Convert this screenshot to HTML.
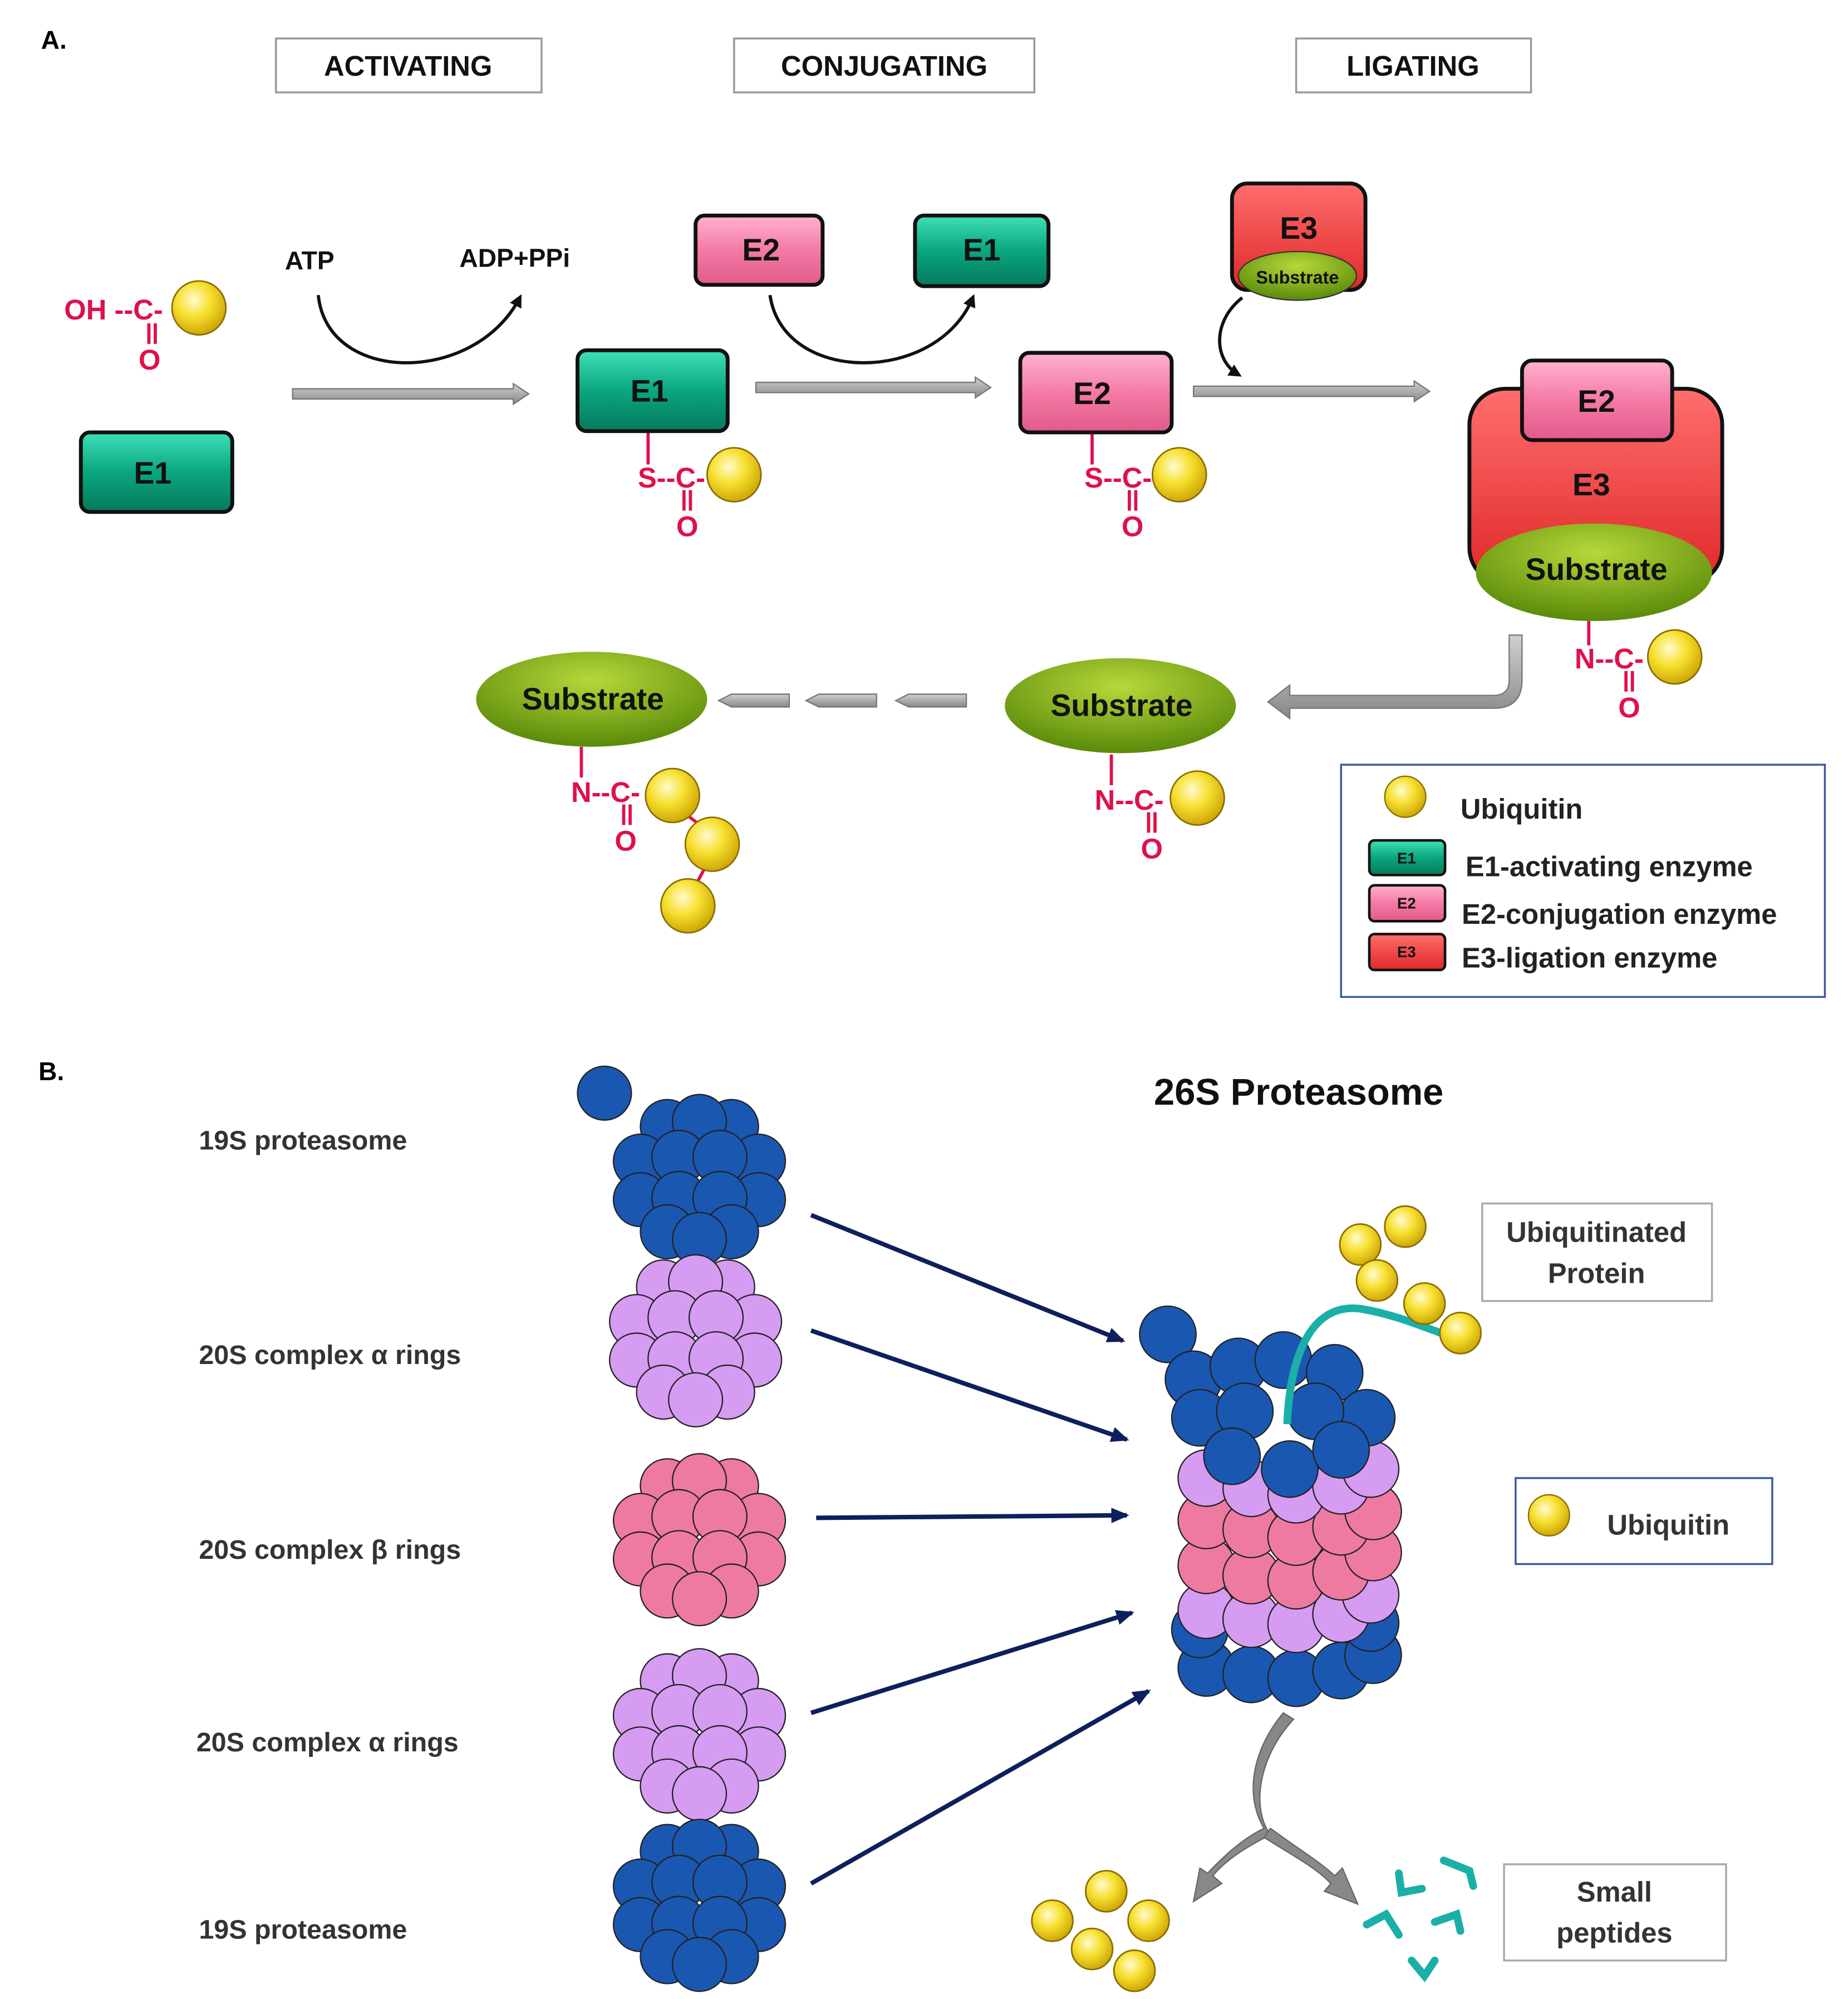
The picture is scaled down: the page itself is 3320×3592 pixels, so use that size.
<!DOCTYPE html>
<html><head><meta charset="utf-8"><style>
html,body{margin:0;padding:0;background:#fff}
svg{display:block}
text{font-family:"Liberation Sans",sans-serif;font-weight:bold}
</style></head><body>
<svg width="3320" height="3592" viewBox="0 0 1440 1558" xmlns="http://www.w3.org/2000/svg">
<defs>
<radialGradient id="ub" cx="0.4" cy="0.35" r="0.7"><stop offset="0" stop-color="#fffbd0"/><stop offset="0.45" stop-color="#f7e030"/><stop offset="1" stop-color="#c9a000"/></radialGradient>
<linearGradient id="gE1" x1="0" y1="0" x2="0" y2="1"><stop offset="0" stop-color="#3fe0b8"/><stop offset="0.5" stop-color="#0aa67f"/><stop offset="1" stop-color="#057a5c"/></linearGradient>
<linearGradient id="gE2" x1="0" y1="0" x2="0" y2="1"><stop offset="0" stop-color="#ffb3d0"/><stop offset="0.5" stop-color="#f47aa6"/><stop offset="1" stop-color="#e05a8a"/></linearGradient>
<linearGradient id="gE3" x1="0" y1="0" x2="0" y2="1"><stop offset="0" stop-color="#ff6e6e"/><stop offset="1" stop-color="#e02828"/></linearGradient>
<radialGradient id="gS" cx="0.5" cy="0.3" r="0.7"><stop offset="0" stop-color="#b7d83a"/><stop offset="1" stop-color="#5a8a0a"/></radialGradient>
<linearGradient id="gA" x1="0" y1="0" x2="0" y2="1"><stop offset="0" stop-color="#d0d0d0"/><stop offset="1" stop-color="#888"/></linearGradient>
<marker id="ah" markerWidth="10" markerHeight="10" refX="7" refY="5" orient="auto" markerUnits="userSpaceOnUse"><path d="M0,0 L10,5 L0,10 z" fill="#111"/></marker>
<marker id="nv" markerWidth="14" markerHeight="12" refX="12" refY="6" orient="auto" markerUnits="userSpaceOnUse"><path d="M0,0 L14,6 L0,12 z" fill="#0d1f5c"/></marker>
<g id="cl" stroke="#222" stroke-width="1">
<circle cx="-25" cy="-42" r="21"/><circle cx="25" cy="-42" r="21"/><circle cx="0" cy="-46" r="21"/>
<circle cx="-46" cy="-15" r="21"/><circle cx="46" cy="-15" r="21"/><circle cx="-16" cy="-18" r="21"/><circle cx="16" cy="-18" r="21"/>
<circle cx="-46" cy="15" r="21"/><circle cx="46" cy="15" r="21"/><circle cx="-16" cy="14" r="21"/><circle cx="16" cy="14" r="21"/>
<circle cx="-25" cy="40" r="21"/><circle cx="25" cy="40" r="21"/><circle cx="0" cy="46" r="21"/>
</g>
</defs>

<text x="32" y="38" font-size="20">A.</text>
<g stroke="#999" fill="#fff" stroke-width="1.5">
<rect x="215" y="30" width="207" height="42"/><rect x="572" y="30" width="234" height="42"/><rect x="1010" y="30" width="183" height="42"/></g>
<g font-size="22" text-anchor="middle" fill="#111">
<text x="318" y="59">ACTIVATING</text><text x="689" y="59">CONJUGATING</text><text x="1101" y="59">LIGATING</text></g>

<!-- free ubiquitin -->
<g fill="#e0104a" font-size="22">
<text x="50" y="249">OH --C-</text><text x="108" y="288">O</text>
<text x="497" y="380">S--C-</text><text x="527" y="418">O</text>
<text x="845" y="380">S--C-</text><text x="874" y="418">O</text>
<text x="1227" y="521">N--C-</text><text x="1261" y="559">O</text>
<text x="853" y="631">N--C-</text><text x="889" y="669">O</text>
<text x="445" y="625">N--C-</text><text x="479" y="663">O</text>
</g>
<g stroke="#e0104a" stroke-width="2.5">
<line x1="116" y1="252" x2="116" y2="268"/><line x1="121" y1="252" x2="121" y2="268"/>
<line x1="505" y1="337" x2="505" y2="362"/><line x1="533" y1="382" x2="533" y2="398"/><line x1="538" y1="382" x2="538" y2="398"/>
<line x1="851" y1="338" x2="851" y2="362"/><line x1="880" y1="382" x2="880" y2="398"/><line x1="885" y1="382" x2="885" y2="398"/>
<line x1="1238" y1="484" x2="1238" y2="503"/><line x1="1267" y1="523" x2="1267" y2="539"/><line x1="1272" y1="523" x2="1272" y2="539"/>
<line x1="866" y1="588" x2="866" y2="612"/><line x1="895" y1="633" x2="895" y2="649"/><line x1="900" y1="633" x2="900" y2="649"/>
<line x1="453" y1="582" x2="453" y2="606"/><line x1="486" y1="627" x2="486" y2="643"/><line x1="491" y1="627" x2="491" y2="643"/>
<line x1="535" y1="635" x2="548" y2="645"/><line x1="550" y1="675" x2="542" y2="690"/>
</g>
<g fill="url(#ub)" stroke="#8a6d00" stroke-width="1.2">
<circle cx="155" cy="240" r="21"/><circle cx="572" cy="370" r="21"/><circle cx="919" cy="370" r="21"/>
<circle cx="1305" cy="512" r="21"/><circle cx="933" cy="622" r="21"/>
<circle cx="524" cy="620" r="21"/><circle cx="555" cy="658" r="21"/><circle cx="536" cy="706" r="21"/>
</g>

<!-- boxes -->
<g stroke="#111" stroke-width="3">
<rect x="63" y="337" width="118" height="62" rx="7" fill="url(#gE1)"/>
<rect x="450" y="273" width="117" height="63" rx="7" fill="url(#gE1)"/>
<rect x="713" y="168" width="104" height="55" rx="7" fill="url(#gE1)"/>
<rect x="542" y="168" width="99" height="54" rx="7" fill="url(#gE2)"/>
<rect x="795" y="275" width="118" height="62" rx="7" fill="url(#gE2)"/>
<rect x="960" y="143" width="104" height="83" rx="12" fill="url(#gE3)"/>
<rect x="1145" y="303" width="197" height="152" rx="28" fill="url(#gE3)"/>
<rect x="1186" y="281" width="117" height="62" rx="8" fill="url(#gE2)"/>
</g>
<ellipse cx="1011" cy="215" rx="46" ry="19" fill="url(#gS)" stroke="#333"/>
<ellipse cx="1242" cy="446" rx="92" ry="38" fill="url(#gS)"/>
<ellipse cx="873" cy="550" rx="90" ry="37" fill="url(#gS)"/>
<ellipse cx="461" cy="545" rx="90" ry="37" fill="url(#gS)"/>
<g font-size="24" text-anchor="middle" fill="#111">
<text x="119" y="377">E1</text><text x="506" y="313">E1</text><text x="765" y="203">E1</text>
<text x="593" y="203">E2</text><text x="851" y="315">E2</text><text x="1012" y="186">E3</text>
<text x="1244" y="321">E2</text><text x="1240" y="386">E3</text>
<text x="1244" y="452">Substrate</text><text x="874" y="558">Substrate</text><text x="462" y="553">Substrate</text>
<text x="1011" y="221" font-size="14">Substrate</text>
</g>
<g font-size="20" fill="#111"><text x="222" y="210">ATP</text><text x="358" y="208">ADP+PPi</text></g>
<g fill="none" stroke="#111" stroke-width="2.5" marker-end="url(#ah)">
<path d="M248,230 C255,300 370,300 405,232"/>
<path d="M600,230 C610,300 730,300 758,232"/>
<path d="M968,232 C945,250 945,280 965,292"/>
</g>
<!-- gray arrows -->
<g fill="url(#gA)" stroke="#777" stroke-width="1">
<path d="M228,303 H400 V299 L412,307 L400,315 V311 H228 Z"/>
<path d="M589,298 H760 V294 L772,302 L760,310 V306 H589 Z"/>
<path d="M930,301 H1102 V297 L1114,305 L1102,313 V309 H930 Z"/>
<path d="M1176,495 H1186 V530 Q1186,552 1164,552 H1005 V560 L988,547 L1005,534 V542 H1164 Q1176,542 1176,530 Z"/>
<path d="M570,541 H615 V551 H570 L560,546 Z"/>
<path d="M638,541 H683 V551 H638 L628,546 Z"/>
<path d="M708,541 H753 V551 H708 L698,546 Z"/>
</g>
<!-- legend -->
<rect x="1045" y="596" width="377" height="181" fill="#fff" stroke="#3a5a9a" stroke-width="1.5"/>
<circle cx="1095" cy="621" r="16" fill="url(#ub)" stroke="#8a6d00"/>
<g stroke="#111" stroke-width="2">
<rect x="1067" y="655" width="59" height="27" rx="4" fill="url(#gE1)"/>
<rect x="1067" y="690" width="59" height="28" rx="4" fill="url(#gE2)"/>
<rect x="1067" y="728" width="59" height="28" rx="4" fill="url(#gE3)"/></g>
<g font-size="12" text-anchor="middle" fill="#111"><text x="1096" y="673">E1</text><text x="1096" y="708">E2</text><text x="1096" y="746">E3</text></g>
<g font-size="22" fill="#222"><text x="1138" y="638">Ubiquitin</text><text x="1142" y="683">E1-activating enzyme</text><text x="1139" y="720">E2-conjugation enzyme</text><text x="1139" y="754">E3-ligation enzyme</text></g>

<!-- B -->
<text x="30" y="842" font-size="20">B.</text>
<text x="1012" y="861" font-size="29" text-anchor="middle" fill="#111">26S Proteasome</text>
<g font-size="21" fill="#333"><text x="155" y="896">19S proteasome</text><text x="155" y="1063">20S complex α rings</text><text x="155" y="1215">20S complex β rings</text><text x="153" y="1365">20S complex α rings</text><text x="155" y="1511">19S proteasome</text></g>
<circle cx="471" cy="852" r="21" fill="#1a57b0" stroke="#222"/>
<use href="#cl" x="545" y="920" fill="#1a57b0"/>
<use href="#cl" x="542" y="1045" fill="#d69cf2"/>
<use href="#cl" x="545" y="1200" fill="#ee7aa2"/>
<use href="#cl" x="545" y="1352" fill="#d69cf2"/>
<use href="#cl" x="545" y="1485" fill="#1a57b0"/>
<g stroke="#0d1f5c" stroke-width="3.5" marker-end="url(#nv)">
<line x1="632" y1="947" x2="875" y2="1045"/><line x1="632" y1="1037" x2="878" y2="1122"/>
<line x1="636" y1="1183" x2="878" y2="1181"/><line x1="632" y1="1335" x2="882" y2="1257"/>
<line x1="632" y1="1468" x2="895" y2="1318"/></g>
<!-- proteasome stack -->
<g stroke="#222" stroke-width="1">
<g fill="#1a57b0"><circle cx="940" cy="1300" r="22"/><circle cx="975" cy="1305" r="22"/><circle cx="1010" cy="1308" r="22"/><circle cx="1045" cy="1302" r="22"/><circle cx="1070" cy="1290" r="22"/><circle cx="935" cy="1270" r="22"/><circle cx="1068" cy="1265" r="22"/></g>
<g fill="#d69cf2"><circle cx="940" cy="1255" r="22"/><circle cx="975" cy="1262" r="22"/><circle cx="1010" cy="1266" r="22"/><circle cx="1045" cy="1258" r="22"/><circle cx="1068" cy="1243" r="22"/></g>
<g fill="#ee7aa2"><circle cx="940" cy="1220" r="22"/><circle cx="975" cy="1228" r="22"/><circle cx="1010" cy="1232" r="22"/><circle cx="1045" cy="1225" r="22"/><circle cx="1070" cy="1210" r="22"/><circle cx="940" cy="1185" r="22"/><circle cx="975" cy="1192" r="22"/><circle cx="1010" cy="1198" r="22"/><circle cx="1045" cy="1190" r="22"/><circle cx="1070" cy="1178" r="22"/></g>
<g fill="#d69cf2"><circle cx="940" cy="1152" r="22"/><circle cx="975" cy="1160" r="22"/><circle cx="1010" cy="1165" r="22"/><circle cx="1045" cy="1158" r="22"/><circle cx="1068" cy="1145" r="22"/></g>
<g fill="#1a57b0"><circle cx="910" cy="1040" r="22"/><circle cx="930" cy="1075" r="22"/><circle cx="965" cy="1065" r="22"/><circle cx="1000" cy="1060" r="22"/><circle cx="1040" cy="1070" r="22"/><circle cx="1065" cy="1105" r="22"/><circle cx="935" cy="1105" r="22"/><circle cx="970" cy="1100" r="22"/><circle cx="1025" cy="1100" r="22"/><circle cx="960" cy="1135" r="22"/><circle cx="1005" cy="1145" r="22"/><circle cx="1045" cy="1130" r="22"/></g>
</g>
<path d="M1003,1110 C1005,1060 1020,1015 1060,1020 C1090,1025 1110,1035 1140,1045" fill="none" stroke="#1ab0a8" stroke-width="6"/>
<g fill="url(#ub)" stroke="#8a6d00" stroke-width="1.2">
<circle cx="1060" cy="970" r="16"/><circle cx="1095" cy="956" r="16"/><circle cx="1073" cy="998" r="16"/><circle cx="1110" cy="1016" r="16"/><circle cx="1138" cy="1039" r="16"/>
<circle cx="1207" cy="1181" r="16"/>
<circle cx="820" cy="1497" r="16"/><circle cx="862" cy="1474" r="16"/><circle cx="895" cy="1497" r="16"/><circle cx="851" cy="1519" r="16"/><circle cx="884" cy="1536" r="16"/>
</g>
<rect x="1155" y="938" width="179" height="76" fill="#fff" stroke="#aaa" stroke-width="1.5"/>
<g font-size="22" text-anchor="middle" fill="#333"><text x="1244" y="968">Ubiquitinated</text><text x="1244" y="1000">Protein</text></g>
<rect x="1181" y="1152" width="200" height="67" fill="#fff" stroke="#3a5a9a" stroke-width="1.5"/>
<text x="1300" y="1196" font-size="22" text-anchor="middle" fill="#333">Ubiquitin</text>
<circle cx="1207" cy="1181" r="16" fill="url(#ub)" stroke="#8a6d00"/>
<rect x="1172" y="1453" width="173" height="75" fill="#fff" stroke="#aaa" stroke-width="1.5"/>
<g font-size="22" text-anchor="middle" fill="#333"><text x="1258" y="1482">Small</text><text x="1258" y="1514">peptides</text></g>
<!-- split arrow -->
<path d="M1008,1340 C980,1370 975,1410 990,1430 C970,1440 955,1450 945,1462 L952,1468 L930,1482 L935,1456 L941,1460 C955,1445 970,1432 985,1425 C970,1400 975,1365 1000,1335 Z" fill="#888" stroke="#666"/>
<path d="M990,1425 C1010,1440 1030,1452 1040,1462 L1046,1456 L1058,1484 L1032,1474 L1037,1468 C1025,1455 1005,1445 985,1432 Z" fill="#888" stroke="#666"/>
<g fill="none" stroke="#1ab0a8" stroke-width="6" stroke-linecap="round">
<path d="M1090,1460 L1092,1475 L1108,1472"/><path d="M1125,1450 L1145,1458 L1148,1470"/><path d="M1065,1500 L1080,1492 L1090,1508"/><path d="M1118,1498 L1135,1492 L1138,1505"/><path d="M1100,1528 L1110,1540 L1118,1528"/>
</g>
</svg>
</body></html>
